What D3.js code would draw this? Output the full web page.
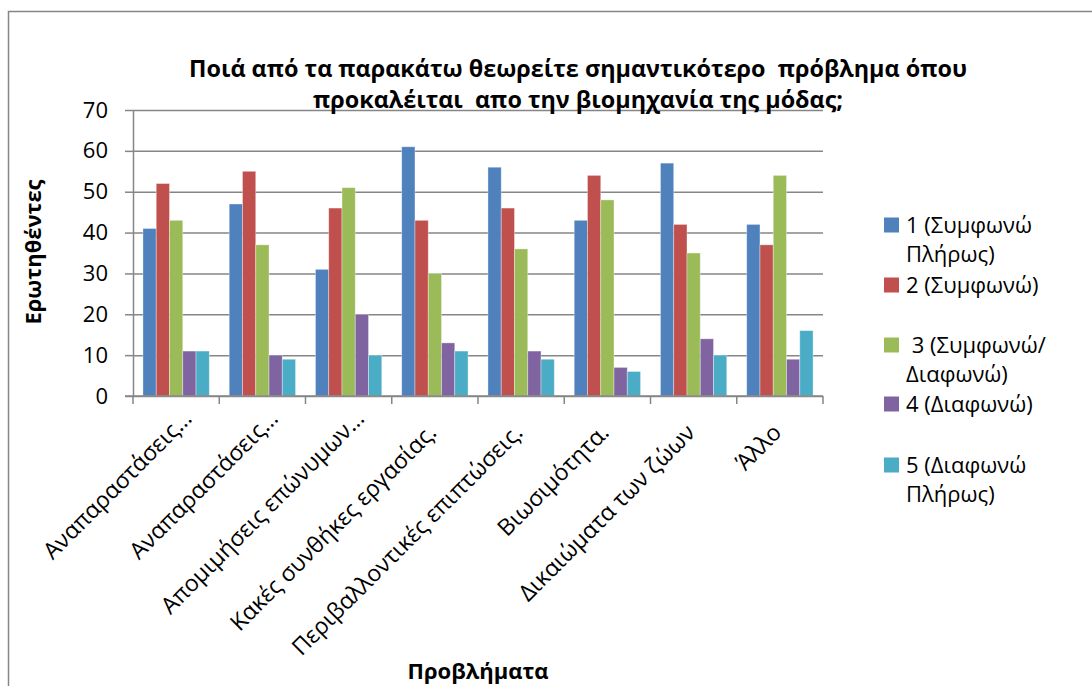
<!DOCTYPE html>
<html>
<head>
<meta charset="utf-8">
<script src="https://cdn.jsdelivr.net/npm/d3@7"></script>
<style>
  body { margin: 0; background: #fff; }
  text { font-family: "Open Sans", "Noto Sans", sans-serif; fill: #000; }
</style>
</head>
<body>
<script>
// Categories on the x axis
const categories = [
  'Αναπαραστάσεις…',
  'Αναπαραστάσεις… ',
  'Απομιμήσεις επώνυμων…',
  'Κακές συνθήκες εργασίας.',
  'Περιβαλλοντικές επιπτώσεις.',
  'Βιωσιμότητα.',
  'Δικαιώματα των ζώων',
  'Άλλο'
];

// Series names (legend), one value per category
const seriesNames = ['1 (Συμφωνώ Πλήρως)', '2 (Συμφωνώ)', ' 3 (Συμφωνώ/ Διαφωνώ)', '4 (Διαφωνώ)', '5 (Διαφωνώ Πλήρως)'];
const legendLines = [['1 (Συμφωνώ', 'Πλήρως)'], ['2 (Συμφωνώ)'], [' 3 (Συμφωνώ/', 'Διαφωνώ)'], ['4 (Διαφωνώ)'], ['5 (Διαφωνώ', 'Πλήρως)']];
const s1 = [41, 47, 31, 61, 56, 43, 57, 42];
const s2 = [52, 55, 46, 43, 46, 54, 42, 37];
const s3 = [43, 37, 51, 30, 36, 48, 35, 54];
const s4 = [11, 10, 20, 13, 11, 7, 14, 9];
const s5 = [11, 9, 10, 11, 9, 6, 10, 16];
const yTicks = [0, 10, 20, 30, 40, 50, 60, 70];

const colors = ['#4F81BD', '#C0504D', '#9BBB59', '#8064A2', '#4BACC6'];
const allSeries = [s1, s2, s3, s4, s5];

const W = 1092, H = 686;
const plot = { left: 133, right: 823, top: 110, bottom: 396 };

const svg = d3.select('body').append('svg')
  .attr('width', W)
  .attr('height', H);

// chart border
svg.append('rect')
  .attr('x', 8.5).attr('y', 11.5)
  .attr('width', W + 10).attr('height', H + 10)
  .attr('fill', 'none')
  .attr('stroke', '#868686')
  .attr('stroke-width', 1.5);

// scales
const x = d3.scaleBand()
  .domain(categories)
  .range([plot.left, plot.right])
  .padding(0);

const xs = d3.scaleBand()
  .domain(d3.range(seriesNames.length))
  .range([0, x.bandwidth()])
  .paddingInner(0)
  .paddingOuter(0.75);

const y = d3.scaleLinear()
  .domain([0, 70])
  .range([plot.bottom, plot.top]);

// gridlines
svg.append('g')
  .attr('transform', `translate(${plot.left},0)`)
  .call(d3.axisLeft(y).tickValues(yTicks).tickSize(-(plot.right - plot.left)).tickFormat(''))
  .call(g => g.select('.domain').remove())
  .call(g => g.selectAll('line').attr('stroke', '#868686').attr('stroke-width', 1.5));

// bars
const rows = categories.map((c, i) => ({ cat: c, vals: allSeries.map(s => s[i]) }));
const group = svg.selectAll('.group')
  .data(rows)
  .enter().append('g')
  .attr('class', 'group')
  .attr('transform', d => `translate(${x(d.cat)},0)`);

group.selectAll('rect')
  .data(d => d.vals.map((v, k) => ({ k, v })))
  .enter().append('rect')
  .attr('x', d => xs(d.k))
  .attr('y', d => y(d.v))
  .attr('width', xs.bandwidth())
  .attr('height', d => y(0) - y(d.v))
  .attr('fill', d => colors[d.k])
  .attr('stroke', 'rgba(255,255,255,0.45)')
  .attr('stroke-width', 0.8);

// y axis
svg.append('g')
  .attr('transform', `translate(${plot.left},0)`)
  .call(d3.axisLeft(y).tickValues(yTicks).tickSizeInner(8).tickSizeOuter(0).tickPadding(17))
  .call(g => g.select('.domain').attr('stroke', '#868686').attr('stroke-width', 1.5))
  .call(g => g.selectAll('line').attr('stroke', '#868686').attr('stroke-width', 1.5))
  .call(g => g.selectAll('text').attr('font-size', 22).attr('font-family', '"Open Sans", sans-serif').attr('fill', '#000'));

// x axis line and boundary ticks
const xAxis = svg.append('g');
xAxis.append('line')
  .attr('x1', plot.left - 8).attr('x2', plot.right)
  .attr('y1', y(0)).attr('y2', y(0))
  .attr('stroke', '#868686').attr('stroke-width', 1.5);
const bounds = categories.map(c => x(c)).concat([x(categories[categories.length - 1]) + x.bandwidth()]);
xAxis.selectAll('.xtick')
  .data(bounds)
  .enter().append('line')
  .attr('x1', d => d).attr('x2', d => d)
  .attr('y1', y(0)).attr('y2', y(0) + 8)
  .attr('stroke', '#868686').attr('stroke-width', 1.5);

// category labels, rotated
xAxis.selectAll('.xlabel')
  .data(categories)
  .enter().append('text')
  .attr('class', 'xlabel')
  .attr('transform', d => `translate(${x(d) + x.bandwidth() / 2 + 3},${y(0) + 38}) rotate(-45)`)
  .attr('text-anchor', 'end')
  .attr('dx', d => d.trim().endsWith('…') ? 20 : 0)
  .attr('font-size', 23)
  .text(d => d.trim());

// title
const title = svg.append('g').attr('font-weight', 'bold').attr('font-size', 23).attr('text-anchor', 'middle');
title.append('text')
  .attr('x', 578).attr('y', 77)
  .attr('textLength', 778).attr('lengthAdjust', 'spacingAndGlyphs')
  .style('white-space', 'pre')
  .text('Ποιά από τα παρακάτω θεωρείτε σημαντικότερο  πρόβλημα όπου');
title.append('text')
  .attr('x', 578).attr('y', 108)
  .attr('textLength', 530).attr('lengthAdjust', 'spacingAndGlyphs')
  .style('white-space', 'pre')
  .text('προκαλέιται  απο την βιομηχανία της μόδας;');

// axis titles
svg.append('text')
  .attr('transform', `translate(41,252) rotate(-90)`)
  .attr('text-anchor', 'middle')
  .attr('font-weight', 'bold')
  .attr('font-size', 22)
  .text('Ερωτηθέντες');

svg.append('text')
  .attr('x', (plot.left + plot.right) / 2).attr('y', 679)
  .attr('text-anchor', 'middle')
  .attr('font-weight', 'bold')
  .attr('font-size', 22)
  .text('Προβλήματα');

// legend
const legendY = [225, 285, 345, 404, 465];
const legend = svg.append('g').attr('class', 'legend');
const item = legend.selectAll('.item')
  .data(seriesNames)
  .enter().append('g')
  .attr('class', 'item')
  .attr('transform', (d, i) => `translate(884,${legendY[i]})`);

item.append('rect')
  .attr('x', 0).attr('y', -7.5)
  .attr('width', 15).attr('height', 15)
  .attr('fill', (d, i) => colors[i]);

item.append('text')
  .attr('x', 22).attr('y', 8)
  .attr('font-size', 22)
  .style('white-space', 'pre')
  .selectAll('tspan')
  .data((d, i) => legendLines[i])
  .enter().append('tspan')
  .attr('x', 22)
  .attr('dy', (d, j) => j === 0 ? 0 : 29)
  .text(d => d);
</script>
</body>
</html>
